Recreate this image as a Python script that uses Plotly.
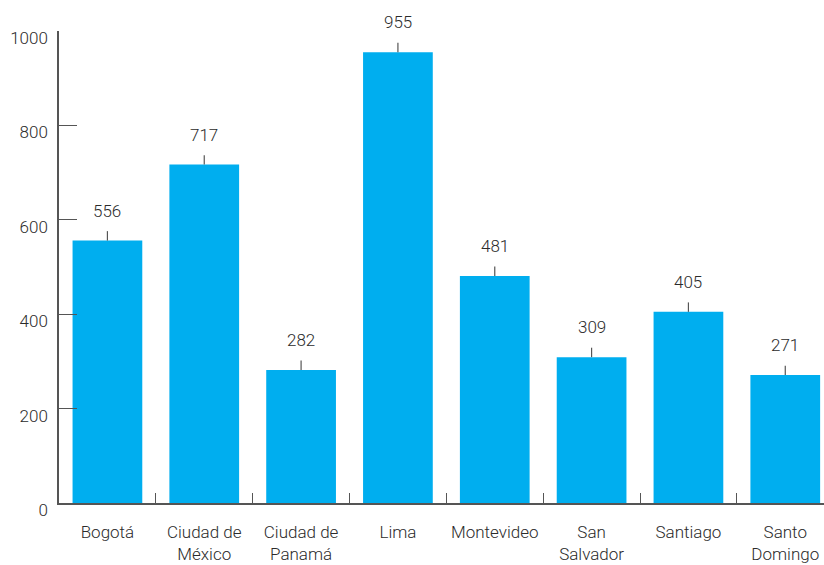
import plotly.graph_objects as go

cities = ["Bogotá", "Ciudad de<br>México", "Ciudad de<br>Panamá", "Lima", "Montevideo",
          "San<br>Salvador", "Santiago", "Santo<br>Domingo"]
values = [556, 717, 282, 955, 481, 309, 405, 271]
y_ticks = [0, 200, 400, 600, 800, 1000]

FONT = "Roboto, Liberation Sans, sans-serif"
TXT = "#2b2b2b"
AX = "#555555"

fig = go.Figure()
fig.add_trace(go.Bar(
    x=cities, y=values, marker=dict(color="#00AEEF", line=dict(width=0)),
    width=0.72,
    error_y=dict(type="data", symmetric=False, array=[20] * len(values),
                 arrayminus=[0] * len(values), width=0, thickness=1.2, color=AX),
    hoverinfo="skip",
))

for c, v in zip(cities, values):
    fig.add_annotation(x=c, y=v, text=str(v), showarrow=False, yanchor="middle",
                       yshift=30, font=dict(family=FONT, size=17, color=TXT, weight=300))

fig.update_layout(
    width=824, height=565,
    margin=dict(l=59, r=0, t=31, b=62),
    paper_bgcolor="white", plot_bgcolor="white",
    showlegend=False,
    font=dict(family=FONT, size=17, color=TXT, weight=300),
)
fig.update_xaxes(
    type="category", range=[-0.5, 7.4], automargin=False,
    showline=True, linecolor=AX, linewidth=1.5,
    ticks="inside", tickson="boundaries", ticklen=10, tickcolor=AX, tickwidth=1.2,
    showgrid=False, zeroline=False,
    tickfont=dict(family=FONT, size=17, color=TXT, weight=300),
    ticklabelstandoff=13,
)
fig.update_yaxes(
    range=[0, 1000], tickvals=y_ticks, ticktext=[str(t) for t in y_ticks],
    automargin=False,
    showline=True, linecolor=AX, linewidth=1.5,
    ticks="inside", ticklen=18, tickcolor=AX, tickwidth=1.2,
    showgrid=False, zeroline=False,
    tickfont=dict(family=FONT, size=17, color=TXT, weight=300),
    ticklabelstandoff=6, ticklabelshift=7,
)

fig.write_html("out.html", config={"displayModeBar": False},
               post_script="document.body.style.margin='0';document.body.style.overflow='hidden';")
